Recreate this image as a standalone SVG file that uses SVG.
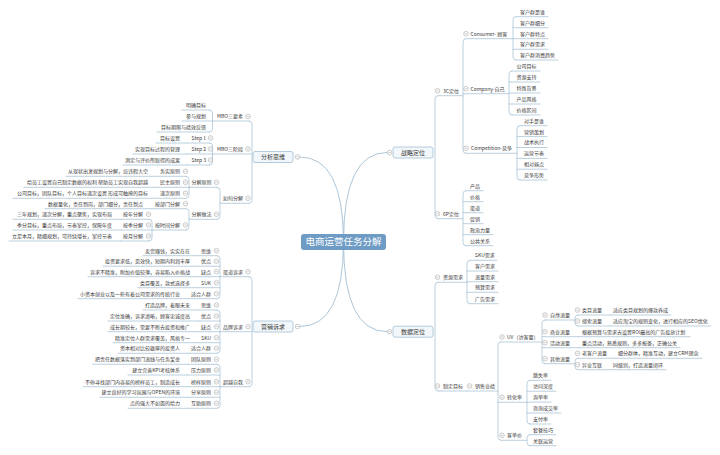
<svg xmlns="http://www.w3.org/2000/svg" xmlns:xlink="http://www.w3.org/1999/xlink" width="720" height="455" viewBox="0 0 720 455">
<style>
.t{font-family:"Noto Sans CJK SC","Liberation Sans",sans-serif;font-size:5px;fill:#3a3a3a}
.e{text-anchor:end}
.b{font-size:6px;text-anchor:middle}
.u{stroke:#a9c4d7;stroke-width:0.8;fill:none;stroke-linecap:round}
.k{fill:#f2f7fb;stroke:#a3bfd4;stroke-width:0.8}
.c{fill:none;stroke:#a3bfd4;stroke-width:0.9}
</style>
<defs>
<g id="m"><circle r="2.3" fill="#fff" stroke="#8c8c8c" stroke-width="0.45"/><path d="M-1.2 0H1.2" stroke="#8c8c8c" stroke-width="0.45"/></g>
</defs>
<rect width="720" height="455" fill="#fff"/>
<g id="connectors">
<path class="c" d="M343.5 242Q343.5 157 299.8 157"/>
<path class="c" d="M343.5 242Q343.5 326.5 299.8 326.5"/>
<path class="c" d="M343.5 242Q343.5 152.5 387.2 152.5"/>
<path class="c" d="M343.5 242Q343.5 331.7 387.2 331.7"/>
<path class="u" d="M249 121Q252 121 252 124V200.3Q252 203.3 249 203.3"/>
<path class="u" d="M209.5 110Q212.5 110 212.5 113V129Q212.5 132 209.5 132"/>
<path class="u" d="M209.5 143Q212.5 143 212.5 146V162Q212.5 165 209.5 165"/>
<path class="u" d="M217 187.3Q220 187.3 220 190.3V216.3Q220 219.3 217 219.3"/>
<path class="u" d="M186 176.3Q189 176.3 189 179.3V195.3Q189 198.3 186 198.3"/>
<path class="u" d="M186 208.7Q189 208.7 189 211.7V227Q189 230 186 230"/>
<path class="u" d="M149 219.3Q152 219.3 152 222.3V238Q152 241 149 241"/>
<path class="u" d="M249 276.7Q252 276.7 252 279.7V383.7Q252 386.7 249 386.7"/>
<path class="u" d="M217 255.7Q220 255.7 220 258.7V295.7Q220 298.7 217 298.7"/>
<path class="u" d="M217 310Q220 310 220 313V350.3Q220 353.3 217 353.3"/>
<path class="u" d="M217 364.3Q220 364.3 220 367.3V405.3Q220 408.3 217 408.3"/>
<path class="u" d="M438 95.7Q435 95.7 435 98.7V215.7Q435 218.7 438 218.7"/>
<path class="u" d="M466 38.7Q463 38.7 463 41.7V150.3Q463 153.3 466 153.3"/>
<path class="u" d="M516 16.7Q513 16.7 513 19.7V57Q513 60 516 60"/>
<path class="u" d="M512 71Q509 71 509 74V112Q509 115 512 115"/>
<path class="u" d="M520 125.7Q517 125.7 517 128.7V177Q517 180 520 180"/>
<path class="u" d="M466 190.7Q463 190.7 463 193.7V242.7Q463 245.7 466 245.7"/>
<path class="u" d="M438 282.3Q435 282.3 435 285.3V388Q435 391 438 391"/>
<path class="u" d="M470 260.3Q467 260.3 467 263.3V300.7Q467 303.7 470 303.7"/>
<path class="u" d="M501 342Q498 342 498 345V437.3Q498 440.3 501 440.3"/>
<path class="u" d="M545 320Q542 320 542 323V360.7Q542 363.7 545 363.7"/>
<path class="u" d="M578 315Q575 315 575 318V323Q575 326 578 326"/>
<path class="u" d="M578 358.3Q575 358.3 575 361.3V366.7Q575 369.7 578 369.7"/>
<path class="u" d="M530 380.3Q527 380.3 527 383.3V421Q527 424 530 424"/>
<path class="u" d="M530 434.7Q527 434.7 527 437.7V442.7Q527 445.7 530 445.7"/>
</g>
<g id="n-root"><rect x="301" y="234" width="85" height="16" rx="3" fill="#6e9cc4"/><text x="343.5" y="245.4" class="t" style="font-size:9.5px;fill:#fff;text-anchor:middle">电商运营任务分解</text></g>
<g id="n-fxsw"><rect class="k" x="253" y="151.5" width="40" height="11" rx="2"/><text class="t b" x="273" y="159.2">分析思维</text><use xlink:href="#m" x="297.5" y="157"/></g>
<g id="n-mbo3"><path class="u" d="M212.5 121H249"/><text class="t e" x="243" y="118.4">MBO三要素</text><use xlink:href="#m" x="248" y="116.5"/></g>
<g id="n-mbo3-1"><path class="u" d="M182 110H209.5"/><text class="t e" x="206" y="106.9">明确目标</text></g>
<g id="n-mbo3-2"><path class="u" d="M182 121H212.5"/><text class="t e" x="206" y="117.9">参与规划</text></g>
<g id="n-mbo3-3"><path class="u" d="M157 132H209.5"/><text class="t e" x="206" y="128.9">目标期限与绩效反馈</text></g>
<g id="n-mbos"><path class="u" d="M212.5 154H252"/><text class="t e" x="243" y="150.9">MBO三阶段</text><use xlink:href="#m" x="248" y="149"/></g>
<g id="n-s1"><path class="u" d="M187 143H209.5"/><text class="t e" x="206" y="139.9">Step 1</text><use xlink:href="#m" x="210.5" y="138"/></g>
<g id="n-s1c"><path class="u" d="M156 143H187"/><text class="t e" x="180" y="139.9">目标设置</text></g>
<g id="n-s2"><path class="u" d="M187 154H212.5"/><text class="t e" x="206" y="150.9">Step 2</text><use xlink:href="#m" x="210.5" y="149"/></g>
<g id="n-s2c"><path class="u" d="M133 154H187"/><text class="t e" x="180" y="150.9">实现目标过程的管理</text></g>
<g id="n-s3"><path class="u" d="M187 165H209.5"/><text class="t e" x="206" y="161.9">Step 3</text><use xlink:href="#m" x="210.5" y="160"/></g>
<g id="n-s3c"><path class="u" d="M123 165H187"/><text class="t e" x="180" y="161.9">测定与评价所取得的成果</text></g>
<g id="n-rhfj"><path class="u" d="M220 203.3H249"/><text class="t e" x="243" y="200.2">如何分解</text><use xlink:href="#m" x="248" y="198.3"/></g>
<g id="n-fjyz"><path class="u" d="M189 187.3H217"/><text class="t e" x="211.5" y="184.2">分解原则</text><use xlink:href="#m" x="216.5" y="182.3"/></g>
<g id="n-wsyz"><path class="u" d="M158 176.3H186"/><text class="t e" x="180" y="173.2">务实原则</text><use xlink:href="#m" x="185.5" y="171.3"/></g>
<g id="n-wsyz-c"><path class="u" d="M66 176.3H158"/><text class="t e" x="148" y="173.2">从现状出发规划与分解，忌讳假大空</text></g>
<g id="n-mzyz"><path class="u" d="M158 187.3H189"/><text class="t e" x="180" y="184.2">民主原则</text><use xlink:href="#m" x="185.5" y="182.3"/></g>
<g id="n-mzyz-c"><path class="u" d="M24 187.3H158"/><text class="t e" x="148" y="184.2">给员工设置自己制定数据的权利 帮助员工实现自我超越</text></g>
<g id="n-dcyz"><path class="u" d="M158 198.3H186"/><text class="t e" x="180" y="195.2">递次原则</text><use xlink:href="#m" x="185.5" y="193.3"/></g>
<g id="n-dcyz-c"><path class="u" d="M13 198.3H158"/><text class="t e" x="148" y="195.2">公司目标，团队目标，个人目标递次设置 形成可触摸的目标</text></g>
<g id="n-fjzf"><path class="u" d="M189 219.3H217"/><text class="t e" x="211.5" y="216.2">分解做法</text><use xlink:href="#m" x="216.5" y="214.3"/></g>
<g id="n-abm"><path class="u" d="M152 208.7H186"/><text class="t e" x="180" y="205.6">按部门分解</text><use xlink:href="#m" x="185.5" y="203.7"/></g>
<g id="n-abm-c"><path class="u" d="M45 208.7H152"/><text class="t e" x="143" y="205.6">数据量化，责任到岗，部门细分，责任到点</text></g>
<g id="n-asj"><path class="u" d="M152 230H186"/><text class="t e" x="180" y="226.9">按时间分解</text><use xlink:href="#m" x="185.5" y="225"/></g>
<g id="n-anf"><path class="u" d="M121 219.3H149"/><text class="t e" x="143" y="216.2">按年分解</text><use xlink:href="#m" x="148.5" y="214.3"/></g>
<g id="n-anf-c"><path class="u" d="M13 219.3H121"/><text class="t e" x="112" y="216.2">三年规划，递次分解，重点聚焦，实现布局</text></g>
<g id="n-ajf"><path class="u" d="M121 230H152"/><text class="t e" x="143" y="226.9">按季分解</text><use xlink:href="#m" x="148.5" y="225"/></g>
<g id="n-ajf-c"><path class="u" d="M13 230H121"/><text class="t e" x="112" y="226.9">季分目标，重点布局，节奏掌控，保障年度</text></g>
<g id="n-ayf"><path class="u" d="M121 241H149"/><text class="t e" x="143" y="237.9">按月分解</text><use xlink:href="#m" x="148.5" y="236"/></g>
<g id="n-ayf-c"><path class="u" d="M9 241H121"/><text class="t e" x="112" y="237.9">立足本月，精细规划，可持续增长，掌控节奏</text></g>
<g id="n-yxsq"><rect class="k" x="253" y="321" width="40" height="11" rx="2"/><text class="t b" x="273" y="328.7">营销诉求</text><use xlink:href="#m" x="297.5" y="326.5"/></g>
<g id="n-qdsq"><path class="u" d="M220 276.7H249"/><text class="t e" x="243" y="273.6">渠道诉求</text><use xlink:href="#m" x="248" y="271.7"/></g>
<g id="n-q1"><path class="u" d="M198 255.7H217"/><text class="t e" x="211" y="252.6">思维</text><use xlink:href="#m" x="216.5" y="250.7"/></g>
<g id="n-q1c"><path class="u" d="M143 255.7H198"/><text class="t e" x="190" y="252.6">卖货赚钱，实实在在</text></g>
<g id="n-q2"><path class="u" d="M198 266.2H220"/><text class="t e" x="211" y="263.1">优点</text><use xlink:href="#m" x="216.5" y="261.2"/></g>
<g id="n-q2c"><path class="u" d="M103 266.2H198"/><text class="t e" x="190" y="263.1">投资要求低，见效快，短期内利润丰厚</text></g>
<g id="n-q3"><path class="u" d="M198 276.7H220"/><text class="t e" x="211" y="273.6">缺点</text><use xlink:href="#m" x="216.5" y="271.7"/></g>
<g id="n-q3c"><path class="u" d="M88 276.7H198"/><text class="t e" x="190" y="273.6">诉求不精准，附加价值较薄，容易陷入价格战</text></g>
<g id="n-q4"><path class="u" d="M198 287.7H220"/><text class="t e" x="211" y="284.6">SUK</text><use xlink:href="#m" x="216.5" y="282.7"/></g>
<g id="n-q4c"><path class="u" d="M138 287.7H198"/><text class="t e" x="190" y="284.6">类目覆盖，款式选择多</text></g>
<g id="n-q5"><path class="u" d="M188 298.7H217"/><text class="t e" x="211" y="295.6">适合人群</text><use xlink:href="#m" x="216.5" y="293.7"/></g>
<g id="n-q5c"><path class="u" d="M78 298.7H188"/><text class="t e" x="180" y="295.6">小资本创业以及一些有着公司需求的传统行业</text></g>
<g id="n-ppsq"><path class="u" d="M220 331.7H252"/><text class="t e" x="243" y="328.6">品牌诉求</text><use xlink:href="#m" x="248" y="326.7"/></g>
<g id="n-p1"><path class="u" d="M198 310H217"/><text class="t e" x="211" y="306.9">思维</text><use xlink:href="#m" x="216.5" y="305"/></g>
<g id="n-p1c"><path class="u" d="M143 310H198"/><text class="t e" x="190" y="306.9">打造品牌，着眼未来</text></g>
<g id="n-p2"><path class="u" d="M198 321H220"/><text class="t e" x="211" y="317.9">优点</text><use xlink:href="#m" x="216.5" y="316"/></g>
<g id="n-p2c"><path class="u" d="M108 321H198"/><text class="t e" x="190" y="317.9">定位准确，诉求清晰，顾客忠诚度高</text></g>
<g id="n-p3"><path class="u" d="M198 331.7H220"/><text class="t e" x="211" y="328.6">缺点</text><use xlink:href="#m" x="216.5" y="326.7"/></g>
<g id="n-p3c"><path class="u" d="M108 331.7H198"/><text class="t e" x="190" y="328.6">成长期较长，需要不断去投资和推广</text></g>
<g id="n-p4"><path class="u" d="M198 342.7H220"/><text class="t e" x="211" y="339.6">SKU</text><use xlink:href="#m" x="216.5" y="337.7"/></g>
<g id="n-p4c"><path class="u" d="M113 342.7H198"/><text class="t e" x="190" y="339.6">精准定位人群需求覆盖，风格专一</text></g>
<g id="n-p5"><path class="u" d="M188 353.3H217"/><text class="t e" x="211" y="350.2">适合人群</text><use xlink:href="#m" x="216.5" y="348.3"/></g>
<g id="n-p5c"><path class="u" d="M118 353.3H188"/><text class="t e" x="180" y="350.2">资本相对比较雄厚的投资人</text></g>
<g id="n-cyzw"><path class="u" d="M220 386.7H249"/><text class="t e" x="243" y="383.6">超越自我</text><use xlink:href="#m" x="248" y="381.7"/></g>
<g id="n-c1"><path class="u" d="M188 364.3H217"/><text class="t e" x="211" y="361.2">团队原则</text><use xlink:href="#m" x="216.5" y="359.3"/></g>
<g id="n-c1c"><path class="u" d="M93 364.3H188"/><text class="t e" x="180" y="361.2">把责任数据落实到部门流线与任务奖金</text></g>
<g id="n-c2"><path class="u" d="M188 375H220"/><text class="t e" x="211" y="371.9">压力原则</text><use xlink:href="#m" x="216.5" y="370"/></g>
<g id="n-c2c"><path class="u" d="M128 375H188"/><text class="t e" x="180" y="371.9">建立完善KPI考核体系</text></g>
<g id="n-c3"><path class="u" d="M188 386.7H220"/><text class="t e" x="211" y="383.6">榜样原则</text><use xlink:href="#m" x="216.5" y="381.7"/></g>
<g id="n-c3c"><path class="u" d="M83 386.7H188"/><text class="t e" x="180" y="383.6">不停寻找部门内容易的榜样员工，制造成长</text></g>
<g id="n-c4"><path class="u" d="M188 397.3H220"/><text class="t e" x="211" y="394.2">分享原则</text><use xlink:href="#m" x="216.5" y="392.3"/></g>
<g id="n-c4c"><path class="u" d="M100 397.3H188"/><text class="t e" x="180" y="394.2">建立良好的学习氛围与OPEN的环境</text></g>
<g id="n-c5"><path class="u" d="M188 408.3H217"/><text class="t e" x="211" y="405.2">互助原则</text><use xlink:href="#m" x="216.5" y="403.3"/></g>
<g id="n-c5c"><path class="u" d="M128 408.3H188"/><text class="t e" x="180" y="405.2">点的强大不如面的给力</text></g>
<g id="n-zldw"><rect class="k" x="393" y="147" width="40" height="11" rx="2"/><text class="t b" x="413" y="154.7">战略定位</text><use xlink:href="#m" x="389.5" y="152.5"/></g>
<g id="n-3c"><path class="u" d="M438 95.7H463"/><text class="t" x="443" y="92.6">3C定位</text><use xlink:href="#m" x="437.5" y="90.7"/></g>
<g id="n-consumer"><path class="u" d="M466 38.7H513"/><text class="t" x="470.5" y="35.6">Consumer- 顾客</text><use xlink:href="#m" x="466" y="33.7"/></g>
<g id="n-cs1"><path class="u" d="M516 16.7H548"/><text class="t" x="520" y="13.6">客户群是谁</text></g>
<g id="n-cs2"><path class="u" d="M513 27.7H548"/><text class="t" x="520" y="24.6">客户群细分</text></g>
<g id="n-cs3"><path class="u" d="M513 38.7H548"/><text class="t" x="520" y="35.6">客户群特点</text></g>
<g id="n-cs4"><path class="u" d="M513 49.3H548"/><text class="t" x="520" y="46.2">客户群需求</text></g>
<g id="n-cs5"><path class="u" d="M516 60H558"/><text class="t" x="520" y="56.9">客户群消费趋势</text></g>
<g id="n-company"><path class="u" d="M463 93.7H509"/><text class="t" x="470.5" y="90.6">Company-自己</text><use xlink:href="#m" x="466" y="88.7"/></g>
<g id="n-co1"><path class="u" d="M512 71H540"/><text class="t" x="516.5" y="67.9">公司目标</text></g>
<g id="n-co2"><path class="u" d="M509 82H540"/><text class="t" x="516.5" y="78.9">资源支持</text></g>
<g id="n-co3"><path class="u" d="M509 93H540"/><text class="t" x="516.5" y="89.9">特殊背景</text></g>
<g id="n-co4"><path class="u" d="M509 104H540"/><text class="t" x="516.5" y="100.9">产品风格</text></g>
<g id="n-co5"><path class="u" d="M512 115H540"/><text class="t" x="516.5" y="111.9">价格区间</text></g>
<g id="n-competition"><path class="u" d="M466 153.3H517"/><text class="t" x="471" y="150.2">Competition-竞争</text><use xlink:href="#m" x="466" y="148.3"/></g>
<g id="n-cp1"><path class="u" d="M520 125.7H547"/><text class="t" x="524" y="122.6">对手是谁</text></g>
<g id="n-cp2"><path class="u" d="M517 136.6H547"/><text class="t" x="524" y="133.5">营销策划</text></g>
<g id="n-cp3"><path class="u" d="M517 147.5H547"/><text class="t" x="524" y="144.4">战术执行</text></g>
<g id="n-cp4"><path class="u" d="M517 158.4H547"/><text class="t" x="524" y="155.3">运营节奏</text></g>
<g id="n-cp5"><path class="u" d="M517 169.2H547"/><text class="t" x="524" y="166.1">相对弱点</text></g>
<g id="n-cp6"><path class="u" d="M520 180H547"/><text class="t" x="524" y="176.9">竞争形势</text></g>
<g id="n-6p"><path class="u" d="M438 218.7H463"/><text class="t" x="443" y="215.6">6P定位</text><use xlink:href="#m" x="437.5" y="213.7"/></g>
<g id="n-6p1"><path class="u" d="M466 190.7H483"/><text class="t" x="470" y="187.6">产品</text></g>
<g id="n-6p2"><path class="u" d="M463 201.7H483"/><text class="t" x="470" y="198.6">价格</text></g>
<g id="n-6p3"><path class="u" d="M463 212.7H483"/><text class="t" x="470" y="209.6">渠道</text></g>
<g id="n-6p4"><path class="u" d="M463 223.7H483"/><text class="t" x="470" y="220.6">促销</text></g>
<g id="n-6p5"><path class="u" d="M463 234.7H493"/><text class="t" x="470" y="231.6">政治力量</text></g>
<g id="n-6p6"><path class="u" d="M466 245.7H493"/><text class="t" x="470" y="242.6">公共关系</text></g>
<g id="n-sjdw"><rect class="k" x="393" y="326.2" width="40" height="11" rx="2"/><text class="t b" x="413" y="333.9">数据定位</text><use xlink:href="#m" x="389.5" y="331.7"/></g>
<g id="n-zyxq"><path class="u" d="M438 282.3H467"/><text class="t" x="443" y="279.2">资源需求</text><use xlink:href="#m" x="437.5" y="277.3"/></g>
<g id="n-zy1"><path class="u" d="M470 260.3H497"/><text class="t" x="475" y="257.2">SKU需求</text></g>
<g id="n-zy2"><path class="u" d="M467 271H498"/><text class="t" x="475" y="267.9">客户需求</text></g>
<g id="n-zy3"><path class="u" d="M467 281.7H498"/><text class="t" x="475" y="278.6">流量需求</text></g>
<g id="n-zy4"><path class="u" d="M467 292.3H498"/><text class="t" x="475" y="289.2">预算需求</text></g>
<g id="n-zy5"><path class="u" d="M470 303.7H498"/><text class="t" x="475" y="300.6">广告需求</text></g>
<g id="n-zdmb"><path class="u" d="M438 391H467"/><text class="t" x="443" y="387.9">制定目标</text><use xlink:href="#m" x="437.5" y="386"/></g>
<g id="n-xsyj"><path class="u" d="M467 391H498"/><text class="t" x="475" y="387.9">销售业绩</text><use xlink:href="#m" x="469.5" y="386"/></g>
<g id="n-uv"><path class="u" d="M501 342H542"/><text class="t" x="507" y="338.9">UV（访客量）</text><use xlink:href="#m" x="502" y="337"/></g>
<g id="n-zrll"><path class="u" d="M545 320H575"/><text class="t" x="550" y="316.9">自然流量</text><use xlink:href="#m" x="545" y="315"/></g>
<g id="n-lmll"><path class="u" d="M578 315H610"/><text class="t" x="582" y="311.9">类目流量</text><use xlink:href="#m" x="577.5" y="310"/></g>
<g id="n-lmll-c"><path class="u" d="M610 315H671"/><text class="t" x="613" y="311.9">适应类目规划的爆款养成</text></g>
<g id="n-ssll"><path class="u" d="M578 326H610"/><text class="t" x="582" y="322.9">搜索流量</text><use xlink:href="#m" x="577.5" y="321"/></g>
<g id="n-ssll-c"><path class="u" d="M610 326H711"/><text class="t" x="613" y="322.9">适应淘宝的规则变化，进行相应的SEO优化</text></g>
<g id="n-syll"><path class="u" d="M542 336.7H579"/><text class="t" x="550" y="333.6">商业流量</text><use xlink:href="#m" x="545" y="331.7"/></g>
<g id="n-syll-c"><path class="u" d="M579 336.7H690"/><text class="t" x="582" y="333.6">根据预算与需求去设置ROI最高的广告投放计划</text></g>
<g id="n-hdll"><path class="u" d="M542 347.7H579"/><text class="t" x="550" y="344.6">活动流量</text><use xlink:href="#m" x="545" y="342.7"/></g>
<g id="n-hdll-c"><path class="u" d="M579 347.7H680"/><text class="t" x="582" y="344.6">重点活动，熟悉规则，多多报备，正确公关</text></g>
<g id="n-qtll"><path class="u" d="M545 363.7H575"/><text class="t" x="550" y="360.6">其他流量</text><use xlink:href="#m" x="545" y="358.7"/></g>
<g id="n-lkh"><path class="u" d="M578 358.3H615"/><text class="t" x="582" y="355.2">老客户流量</text><use xlink:href="#m" x="577.5" y="353.3"/></g>
<g id="n-lkh-c"><path class="u" d="M615 358.3H702"/><text class="t" x="618" y="355.2">细分群体，精准互动，建立CRM理念</text></g>
<g id="n-yyhl"><path class="u" d="M578 369.7H610"/><text class="t" x="582" y="366.6">异业互联</text><use xlink:href="#m" x="577.5" y="364.7"/></g>
<g id="n-yyhl-c"><path class="u" d="M610 369.7H666"/><text class="t" x="613" y="366.6">同级别，打造流量闭环</text></g>
<g id="n-zhl"><path class="u" d="M498 402.3H527"/><text class="t" x="507" y="399.2">转化率</text><use xlink:href="#m" x="502" y="397.3"/></g>
<g id="n-zh1"><path class="u" d="M530 380.3H551"/><text class="t" x="533" y="377.2">跳失率</text></g>
<g id="n-zh2"><path class="u" d="M527 391.2H556"/><text class="t" x="533" y="388.1">访问深度</text></g>
<g id="n-zh3"><path class="u" d="M527 402.1H551"/><text class="t" x="533" y="399">询单率</text></g>
<g id="n-zh4"><path class="u" d="M527 413H561"/><text class="t" x="533" y="409.9">咨询成交率</text></g>
<g id="n-zh5"><path class="u" d="M530 424H551"/><text class="t" x="533" y="420.9">支付率</text></g>
<g id="n-kdj"><path class="u" d="M501 440.3H527"/><text class="t" x="507" y="437.2">客单价</text><use xlink:href="#m" x="502" y="435.3"/></g>
<g id="n-kd1"><path class="u" d="M530 434.7H556"/><text class="t" x="533" y="431.6">套餐技巧</text></g>
<g id="n-kd2"><path class="u" d="M530 445.7H556"/><text class="t" x="533" y="442.6">关联运营</text></g>
</svg>
